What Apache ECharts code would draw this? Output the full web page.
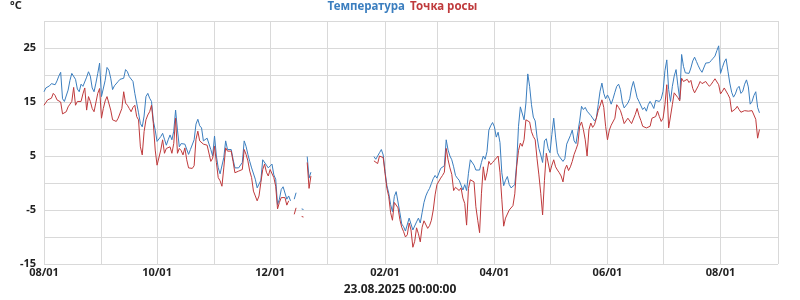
<!DOCTYPE html>
<html>
<head>
<meta charset="utf-8">
<script src="https://cdn.jsdelivr.net/npm/echarts@6/dist/echarts.min.js"></script>
<style>
  html, body { margin: 0; padding: 0; background: #fff; }
  #chart { width: 800px; height: 300px; }
</style>
</head>
<body>
<div id="chart"></div>
<script>
// one value per day, 01.08.2024 .. 22.08.2025, null = no data
const startDate = "2024-08-01";
const dayCount = 397; // axis runs up to 09/01

const temperature = [
    // Aug 2024
    16.9, 17.6, 17.9, 18.0, 18.4, 18.6, 18.2, 18.9, 19.8, 20.5, 15.6, 15.1, 15.4, 17.2, 19.0, 20.3, 20.6, 19.2, 17.4, 16.9, 18.3, 17.9, 17.8, 19.6, 20.6, 19.8, 17.6, 16.9, 18.5, 20.3, 22.2,
    // Sep
    16.0, 15.7, 19.0, 21.4, 20.9, 19.4, 17.3, 18.0, 18.2, 18.8, 19.2, 19.2, 19.4, 21.0, 20.6, 19.7, 20.0, 18.8, 16.6, 14.8, 13.0, 11.0, 10.4, 12.4, 16.0, 16.6, 15.7, 15.1, 11.5, 9.8,
    // Oct
    7.7, 8.0, 8.6, 9.2, 8.1, 7.0, 8.0, 8.9, 8.0, 9.6, 13.5, 9.8, 6.7, 7.3, 7.2, 7.2, 6.9, 5.3, 6.2, 6.4, 8.0, 10.9, 11.8, 10.6, 10.2, 7.8, 7.8, 8.3, 8.1, 6.2, 5.0,
    // Nov
    8.7, 5.0, 2.8, 1.7, 1.7, 4.7, 7.8, 6.2, 5.9, 6.2, 4.4, 2.8, 2.5, 2.8, 2.5, 3.8, 7.8, 6.8, 5.3, 4.0, 2.8, 2.6, 0.7, -0.9, -0.9, 0.5, 4.3, 4.1, 3.3, 2.8,
    // Dec
    3.1, 3.5, 1.5, 0.7, -4.0, -3.0, -1.2, -0.7, -1.0, -3.0, -2.4, -3.3, null, -3.0, -1.8, null, null, -4.8, -4.9, null, 4.9, 0.9, 2.0, null, null, null, null, null, null, null, null,
    // Jan 2025
    null, null, null, null, null, null, null, null, null, null, null, null, null, null, null, null, null, null, null, null, null, null, null, null, null, 4.9, 4.4, 4.3, 5.6, 6.2, 5.2,
    // Feb
    2.1, -0.5, -1.9, -4.0, -5.3, -2.5, -1.6, -1.9, -5.5, -7.6, -8.1, -8.9, -8.9, -6.5, -6.2, -8.7, -8.9, -7.2, -6.5, -7.4, -5.5, -3.6, -2.4, -1.6, -1.0, -0.1, 0.8, 1.4,
    // Mar
    0.9, 0.7, 2.7, 2.7, 3.2, 8.0, 6.1, 5.0, 4.3, 3.0, 1.4, 0.9, 0.5, -0.4, -1.3, -0.3, -1.4, 1.8, 4.3, 4.2, 3.3, 2.4, 2.6, 2.4, 3.8, 5.0, 4.4, 5.8, 9.8, 10.6, 11.2,
    // Apr
    10.4, 8.5, 9.4, 7.5, 1.9, -0.5, 0.5, 1.2, -0.3, -0.9, -1.0, -0.3, 3.5, 10.5, 14.1, 14.0, 11.7, 14.8, 20.2, 17.9, 14.5, 12.2, 11.5, 8.5, 6.4, 5.2, 3.8, 7.8, 8.2, 6.4,
    // May
    5.6, 9.0, 12.0, 8.5, 5.6, 4.9, 5.2, 4.0, 4.5, 7.2, 7.0, 8.8, 9.8, 7.8, 7.3, 7.6, 11.5, 14.2, 13.6, 14.0, 13.3, 13.0, 12.5, 12.5, 11.5, 12.0, 14.5, 17.0, 18.5, 16.6, 15.6,
    // Jun
    16.3, 15.6, 14.6, 15.6, 16.8, 17.9, 18.3, 17.3, 15.0, 13.9, 14.2, 14.8, 15.6, 17.6, 18.8, 19.1, 15.8, 15.1, 15.0, 13.6, 14.0, 13.3, 14.5, 15.1, 14.5, 13.8, 15.3, 15.4, 15.1, 15.6,
    // Jul
    17.0, 20.8, 22.8, 17.3, 15.1, 17.9, 19.8, 21.0, 18.0, 15.5, 23.8, 21.6, 20.4, 20.5, 20.3, 21.3, 22.6, 23.3, 22.5, 21.7, 21.0, 20.5, 20.8, 22.2, 22.0, 22.3, 22.7, 23.1, 23.5, 24.5, 25.4,
    // Aug
    20.3, 21.4, 22.4, 23.0, 20.7, 18.5, 16.8, 15.9, 16.5, 17.5, 17.9, 16.6, 17.0, 18.3, 19.1, 17.8, 14.6, 15.1, 16.2, 16.9, 14.0, 13.0
];

const dewPoint = [
    // Aug 2024
    14.4, 14.9, 15.4, 15.3, 15.7, 16.6, 16.2, 15.4, 15.6, 15.0, 12.8, 12.6, 13.2, 14.1, 14.6, 15.1, 17.7, 14.4, 15.1, 15.0, 15.1, 16.5, 17.6, 13.5, 16.0, 15.1, 13.8, 13.2, 13.5, 16.6, 17.5,
    // Sep
    12.0, 13.8, 15.2, 16.0, 16.0, 13.5, 11.7, 11.5, 11.4, 12.0, 11.7, 13.8, 16.9, 14.8, 14.4, 13.8, 13.2, 14.0, 14.4, 12.3, 11.7, 6.7, 5.2, 9.5, 11.7, 12.6, 13.2, 14.4, 11.0, 6.1,
    // Oct
    3.3, 3.1, 6.1, 8.0, 5.5, 6.4, 6.6, 6.7, 5.5, 7.3, 12.0, 5.5, 6.4, 6.0, 5.2, 6.5, 4.3, 2.8, 2.5, 2.7, 3.2, 8.1, 9.6, 7.8, 8.1, 7.2, 7.5, 7.0, 6.9, 4.0, 4.6,
    // Nov
    6.8, 3.8, 1.0, 0.4, -0.6, 2.8, 6.5, 5.9, 5.6, 5.9, 4.0, 1.9, 1.8, 2.2, 2.3, 2.5, 6.2, 5.3, 4.1, 2.2, 1.0, -1.5, -2.4, -3.3, -2.4, 0.1, 2.5, 3.5, 2.0, 1.3,
    // Dec
    2.5, 2.2, 1.0, -0.6, -4.8, -3.6, -2.7, -2.4, -2.7, -4.1, -3.3, null, null, -5.8, -4.6, null, null, -6.2, -6.3, null, 3.8, -1.0, 1.3, null, null, null, null, null, null, null, null,
    // Jan 2025
    null, null, null, null, null, null, null, null, null, null, null, null, null, null, null, null, null, null, null, null, null, null, null, null, null, 4.1, 3.8, 3.6, 5.0, 4.9, 4.7,
    // Feb
    1.8, -1.0, -2.5, -5.5, -6.9, -3.6, -3.8, -4.6, -6.8, -8.2, -9.0, -10.0, -9.6, -7.4, -8.7, -11.9, -10.8, -8.3, -9.4, -10.9, -8.2, -7.0, -7.3, -8.4, -7.9, -6.9, -5.0, -2.2,
    // Mar
    -0.3, -0.1, 0.9, 1.4, 2.0, 6.4, 4.3, 2.8, 1.6, -1.4, -0.8, -0.7, -1.4, -0.9, -2.8, -3.8, -7.8, -1.0, 0.6, 0.7, 0.2, -4.4, -6.9, -9.2, -2.0, 3.0, 0.5, 1.9, 4.0, 3.4, 3.8,
    // Apr
    4.2, 4.4, 5.0, 2.0, -3.0, -8.0, -6.5, -6.2, -5.0, -5.2, -4.2, -2.0, 3.0, 6.0, 7.4, 6.8, 8.0, 11.7, 12.0, 11.3, 9.5, 8.6, 8.0, 4.5, 1.5, -1.9, -5.9, 0.5, 5.5, 5.8,
    // May
    2.0, 3.3, 4.3, 3.0, 2.4, 1.9, 1.3, 0.2, 2.5, 3.3, 2.3, 3.0, 4.0, 5.3, 6.2, 7.2, 10.5, 11.3, 9.9, 8.0, 5.0, 9.9, 11.1, 10.3, 10.8, 12.0, 13.4, 14.3, 15.4, 14.0, 10.5,
    // Jun
    8.0, 9.8, 10.7, 10.4, 12.0, 14.5, 14.0, 13.4, 12.3, 11.0, 10.8, 12.0, 11.8, 11.0, 11.3, 12.7, 13.8, 12.5, 11.6, 10.5, 10.8, 10.2, 10.2, 10.5, 12.0, 11.8, 12.3, 13.3, 12.3, 11.4,
    // Jul
    12.0, 14.5, 18.2, 10.2, 10.5, 14.5, 16.7, 16.8, 15.8, 15.2, 19.4, 18.8, 18.5, 19.2, 18.6, 19.0, 17.5, 16.7, 16.8, 18.0, 18.8, 18.4, 18.4, 18.8, 18.3, 17.9, 18.3, 18.8, 19.3, 19.6, 18.2,
    // Aug
    16.5, 17.0, 17.6, 17.4, 16.4, 15.7, 13.2, 13.3, 13.7, 14.2, 13.6, 13.1, 13.1, 13.4, 13.6, 13.3, 13.3, 13.4, 13.6, 11.8, 8.3, 9.9
];

const yTickLabels = [25, 15, 5, -5, -15];
const seriesNames = ["Температура", "Точка росы"];
const seriesColors = ["#3b7ebf", "#bf3a3c"];
const stamp = "23.08.2025 00:00:00";

// category labels MM/DD for every day on the axis
const days = [];
const t0 = new Date(startDate + "T00:00:00Z");
for (let i = 0; i < dayCount; i++) {
    const d = new Date(t0.getTime() + i * 86400000);
    const mm = String(d.getUTCMonth() + 1).padStart(2, "0");
    const dd = String(d.getUTCDate()).padStart(2, "0");
    days.push(mm + "/" + dd);
}

const isMonthStart = (idx, val) => val.endsWith("/01");
const isLabelMonth = (idx, val) => val.endsWith("/01") && Number(val.slice(0, 2)) % 2 === 0;

const font = "Noto Sans";
const chart = echarts.init(document.getElementById("chart"));

chart.setOption({
    animation: false,
    backgroundColor: "#fff",
    title: {
        text: stamp,
        left: "center",
        top: 284,
        padding: 0,
        textStyle: { fontFamily: font, fontSize: 12, fontWeight: "bold", color: "#222" }
    },
    legend: {
        top: 0,
        left: "center",
        icon: "none",
        itemWidth: 0,
        itemHeight: 14,
        itemGap: 0,
        selectedMode: false,
        padding: 0,
        textStyle: { fontFamily: font, fontSize: 11.5, fontWeight: "bold" },
        data: [
            { name: seriesNames[0], textStyle: { color: seriesColors[0] } },
            { name: seriesNames[1], textStyle: { color: seriesColors[1] } }
        ]
    },
    graphic: [{
        type: "text",
        left: 10,
        top: 0,
        style: { text: "°C", font: "bold 11px 'Noto Sans'", fill: "#222" }
    }],
    grid: { left: 44, right: 22, top: 21, bottom: 36 },
    xAxis: {
        type: "category",
        data: days,
        boundaryGap: false,
        axisLine: { show: false },
        axisTick: { show: false },
        axisLabel: {
            interval: isLabelMonth,
            margin: 3,
            fontFamily: font,
            fontSize: 11,
            fontWeight: "bold",
            color: "#222"
        },
        splitLine: {
            show: true,
            interval: isMonthStart,
            lineStyle: { color: "#d9d9d9", width: 1 }
        }
    },
    yAxis: {
        type: "value",
        min: -15,
        max: 30,
        interval: 5,
        axisLine: { show: false },
        axisTick: { show: false },
        axisLabel: {
            margin: 8,
            fontFamily: font,
            fontSize: 11,
            fontWeight: "bold",
            color: "#222",
            formatter: v => (yTickLabels.includes(v) ? String(v) : "")
        },
        splitLine: { lineStyle: { color: "#d9d9d9", width: 1 } }
    },
    series: [
        {
            name: seriesNames[0],
            type: "line",
            data: temperature,
            symbol: "none",
            connectNulls: false,
            lineStyle: { color: seriesColors[0], width: 1 },
            itemStyle: { color: seriesColors[0] }
        },
        {
            name: seriesNames[1],
            type: "line",
            data: dewPoint,
            symbol: "none",
            connectNulls: false,
            lineStyle: { color: seriesColors[1], width: 1 },
            itemStyle: { color: seriesColors[1] }
        }
    ]
});
</script>
</body>
</html>
